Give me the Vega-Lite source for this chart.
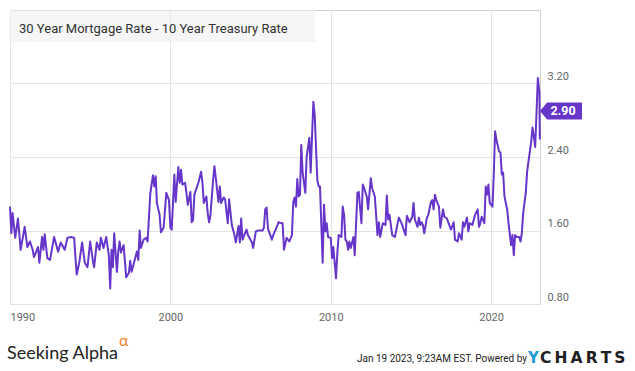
{
  "$schema": "https://vega.github.io/schema/vega-lite/v6.json",
  "width": 530,
  "height": 294,
  "autosize": {"type": "none"},
  "padding": {"left": 10, "top": 10, "right": 95, "bottom": 67},
  "background": "white",
  "title": {
    "text": "30 Year Mortgage Rate - 10 Year Treasury Rate",
    "anchor": "start",
    "frame": "group",
    "orient": "top",
    "offset": -32,
    "dx": 9,
    "baseline": "middle",
    "font": "Roboto",
    "fontSize": 13,
    "fontWeight": "normal",
    "color": "#333333"
  },
  "datasets": {
    "spread": [
      {"date": "1990-01-01", "value": 1.86},
      {"date": "1990-02-01", "value": 1.57},
      {"date": "1990-03-01", "value": 1.79},
      {"date": "1990-05-01", "value": 1.52},
      {"date": "1990-07-01", "value": 1.73},
      {"date": "1990-09-01", "value": 1.39},
      {"date": "1990-12-01", "value": 1.64},
      {"date": "1991-02-01", "value": 1.42},
      {"date": "1991-04-01", "value": 1.48},
      {"date": "1991-06-01", "value": 1.39},
      {"date": "1991-07-01", "value": 1.31},
      {"date": "1991-10-01", "value": 1.42},
      {"date": "1991-11-01", "value": 1.25},
      {"date": "1992-01-01", "value": 1.53},
      {"date": "1992-02-01", "value": 1.39},
      {"date": "1992-03-01", "value": 1.56},
      {"date": "1992-05-01", "value": 1.30},
      {"date": "1992-07-01", "value": 1.28},
      {"date": "1992-10-01", "value": 1.53},
      {"date": "1993-01-01", "value": 1.37},
      {"date": "1993-03-01", "value": 1.47},
      {"date": "1993-06-01", "value": 1.39},
      {"date": "1993-08-01", "value": 1.52},
      {"date": "1993-11-01", "value": 1.53},
      {"date": "1994-01-01", "value": 1.52},
      {"date": "1994-02-01", "value": 1.30},
      {"date": "1994-03-01", "value": 1.12},
      {"date": "1994-05-01", "value": 1.26},
      {"date": "1994-07-01", "value": 1.47},
      {"date": "1994-09-01", "value": 1.25},
      {"date": "1994-11-01", "value": 1.20},
      {"date": "1995-01-01", "value": 1.48},
      {"date": "1995-03-01", "value": 1.28},
      {"date": "1995-04-01", "value": 1.20},
      {"date": "1995-06-01", "value": 1.47},
      {"date": "1995-08-01", "value": 1.39},
      {"date": "1995-09-01", "value": 1.52},
      {"date": "1995-11-01", "value": 1.41},
      {"date": "1996-01-01", "value": 1.53},
      {"date": "1996-03-01", "value": 1.33},
      {"date": "1996-04-01", "value": 0.97},
      {"date": "1996-05-01", "value": 1.39},
      {"date": "1996-06-01", "value": 1.20},
      {"date": "1996-07-01", "value": 1.57},
      {"date": "1996-09-01", "value": 1.15},
      {"date": "1996-10-01", "value": 1.37},
      {"date": "1996-11-01", "value": 1.48},
      {"date": "1996-12-01", "value": 1.36},
      {"date": "1997-02-01", "value": 1.44},
      {"date": "1997-04-01", "value": 1.09},
      {"date": "1997-06-01", "value": 1.14},
      {"date": "1997-07-01", "value": 1.27},
      {"date": "1997-08-01", "value": 1.15},
      {"date": "1997-10-01", "value": 1.26},
      {"date": "1997-12-01", "value": 1.37},
      {"date": "1998-01-01", "value": 1.28},
      {"date": "1998-02-01", "value": 1.60},
      {"date": "1998-03-01", "value": 1.41},
      {"date": "1998-05-01", "value": 1.50},
      {"date": "1998-07-01", "value": 1.52},
      {"date": "1998-08-01", "value": 1.48},
      {"date": "1998-10-01", "value": 2.00},
      {"date": "1998-12-01", "value": 2.20},
      {"date": "1999-01-01", "value": 2.08},
      {"date": "1999-02-01", "value": 2.19},
      {"date": "1999-03-01", "value": 1.90},
      {"date": "1999-05-01", "value": 1.77},
      {"date": "1999-06-01", "value": 1.58},
      {"date": "1999-08-01", "value": 1.63},
      {"date": "1999-10-01", "value": 2.01},
      {"date": "1999-12-01", "value": 1.93},
      {"date": "2000-01-01", "value": 1.63},
      {"date": "2000-02-01", "value": 1.61},
      {"date": "2000-04-01", "value": 2.21},
      {"date": "2000-05-01", "value": 1.91},
      {"date": "2000-07-01", "value": 2.29},
      {"date": "2000-08-01", "value": 2.12},
      {"date": "2000-09-01", "value": 2.26},
      {"date": "2000-10-01", "value": 2.10},
      {"date": "2000-12-01", "value": 2.12},
      {"date": "2001-01-01", "value": 2.01},
      {"date": "2001-02-01", "value": 1.88},
      {"date": "2001-04-01", "value": 2.02},
      {"date": "2001-05-01", "value": 1.69},
      {"date": "2001-06-01", "value": 1.71},
      {"date": "2001-07-01", "value": 1.99},
      {"date": "2001-10-01", "value": 2.12},
      {"date": "2001-12-01", "value": 2.24},
      {"date": "2002-01-01", "value": 2.12},
      {"date": "2002-02-01", "value": 1.90},
      {"date": "2002-04-01", "value": 1.97},
      {"date": "2002-05-01", "value": 1.79},
      {"date": "2002-06-01", "value": 1.69},
      {"date": "2002-07-01", "value": 1.76},
      {"date": "2002-09-01", "value": 2.15},
      {"date": "2002-10-01", "value": 2.30},
      {"date": "2002-11-01", "value": 2.17},
      {"date": "2003-01-01", "value": 1.91},
      {"date": "2003-02-01", "value": 2.08},
      {"date": "2003-03-01", "value": 1.90},
      {"date": "2003-05-01", "value": 1.96},
      {"date": "2003-06-01", "value": 1.94},
      {"date": "2003-08-01", "value": 1.68},
      {"date": "2003-09-01", "value": 1.94},
      {"date": "2003-11-01", "value": 1.66},
      {"date": "2004-01-01", "value": 1.55},
      {"date": "2004-02-01", "value": 1.47},
      {"date": "2004-04-01", "value": 1.65},
      {"date": "2004-05-01", "value": 1.47},
      {"date": "2004-06-01", "value": 1.73},
      {"date": "2004-07-01", "value": 1.50},
      {"date": "2004-10-01", "value": 1.61},
      {"date": "2004-11-01", "value": 1.55},
      {"date": "2005-02-01", "value": 1.47},
      {"date": "2005-03-01", "value": 1.41},
      {"date": "2005-05-01", "value": 1.59},
      {"date": "2005-07-01", "value": 1.60},
      {"date": "2005-10-01", "value": 1.60},
      {"date": "2005-11-01", "value": 1.63},
      {"date": "2005-12-01", "value": 1.83},
      {"date": "2006-01-01", "value": 1.85},
      {"date": "2006-02-01", "value": 1.62},
      {"date": "2006-05-01", "value": 1.50},
      {"date": "2006-06-01", "value": 1.55},
      {"date": "2006-09-01", "value": 1.65},
      {"date": "2006-10-01", "value": 1.69},
      {"date": "2006-12-01", "value": 1.68},
      {"date": "2007-01-01", "value": 1.68},
      {"date": "2007-02-01", "value": 1.39},
      {"date": "2007-04-01", "value": 1.52},
      {"date": "2007-06-01", "value": 1.48},
      {"date": "2007-08-01", "value": 1.55},
      {"date": "2007-09-01", "value": 1.91},
      {"date": "2007-10-01", "value": 1.96},
      {"date": "2007-11-01", "value": 1.86},
      {"date": "2007-12-01", "value": 2.16},
      {"date": "2008-01-01", "value": 1.97},
      {"date": "2008-02-01", "value": 1.99},
      {"date": "2008-03-01", "value": 2.53},
      {"date": "2008-04-01", "value": 2.23},
      {"date": "2008-06-01", "value": 2.01},
      {"date": "2008-07-01", "value": 2.40},
      {"date": "2008-09-01", "value": 2.61},
      {"date": "2008-10-01", "value": 2.23},
      {"date": "2008-12-01", "value": 3.00},
      {"date": "2009-01-01", "value": 2.86},
      {"date": "2009-03-01", "value": 2.15},
      {"date": "2009-04-01", "value": 2.08},
      {"date": "2009-05-01", "value": 2.08},
      {"date": "2009-07-01", "value": 1.25},
      {"date": "2009-08-01", "value": 1.88},
      {"date": "2009-09-01", "value": 1.59},
      {"date": "2009-10-01", "value": 1.68},
      {"date": "2009-11-01", "value": 1.53},
      {"date": "2010-01-01", "value": 1.52},
      {"date": "2010-02-01", "value": 1.30},
      {"date": "2010-03-01", "value": 1.42},
      {"date": "2010-05-01", "value": 1.08},
      {"date": "2010-06-01", "value": 1.36},
      {"date": "2010-07-01", "value": 1.55},
      {"date": "2010-09-01", "value": 1.53},
      {"date": "2010-10-01", "value": 1.86},
      {"date": "2010-11-01", "value": 1.77},
      {"date": "2010-12-01", "value": 1.50},
      {"date": "2011-01-01", "value": 1.48},
      {"date": "2011-02-01", "value": 1.39},
      {"date": "2011-03-01", "value": 1.48},
      {"date": "2011-04-01", "value": 1.41},
      {"date": "2011-06-01", "value": 1.53},
      {"date": "2011-07-01", "value": 1.33},
      {"date": "2011-09-01", "value": 2.01},
      {"date": "2011-10-01", "value": 2.02},
      {"date": "2011-12-01", "value": 1.68},
      {"date": "2012-01-01", "value": 2.10},
      {"date": "2012-02-01", "value": 2.06},
      {"date": "2012-04-01", "value": 1.97},
      {"date": "2012-05-01", "value": 1.83},
      {"date": "2012-07-01", "value": 2.17},
      {"date": "2012-08-01", "value": 2.06},
      {"date": "2012-10-01", "value": 1.97},
      {"date": "2012-12-01", "value": 1.55},
      {"date": "2013-01-01", "value": 1.69},
      {"date": "2013-02-01", "value": 1.53},
      {"date": "2013-04-01", "value": 1.68},
      {"date": "2013-06-01", "value": 1.66},
      {"date": "2013-07-01", "value": 1.98},
      {"date": "2013-08-01", "value": 1.72},
      {"date": "2013-09-01", "value": 1.77},
      {"date": "2013-11-01", "value": 1.55},
      {"date": "2014-01-01", "value": 1.53},
      {"date": "2014-04-01", "value": 1.74},
      {"date": "2014-06-01", "value": 1.68},
      {"date": "2014-07-01", "value": 1.64},
      {"date": "2014-09-01", "value": 1.55},
      {"date": "2014-10-01", "value": 1.76},
      {"date": "2014-12-01", "value": 1.69},
      {"date": "2015-02-01", "value": 1.75},
      {"date": "2015-03-01", "value": 1.90},
      {"date": "2015-04-01", "value": 1.72},
      {"date": "2015-06-01", "value": 1.64},
      {"date": "2015-07-01", "value": 1.74},
      {"date": "2015-08-01", "value": 1.66},
      {"date": "2015-09-01", "value": 1.69},
      {"date": "2015-10-01", "value": 1.66},
      {"date": "2015-11-01", "value": 1.57},
      {"date": "2016-01-01", "value": 1.74},
      {"date": "2016-02-01", "value": 1.77},
      {"date": "2016-04-01", "value": 1.91},
      {"date": "2016-05-01", "value": 1.93},
      {"date": "2016-06-01", "value": 1.83},
      {"date": "2016-07-01", "value": 1.99},
      {"date": "2016-08-01", "value": 1.93},
      {"date": "2016-10-01", "value": 1.86},
      {"date": "2016-11-01", "value": 1.63},
      {"date": "2017-01-01", "value": 1.83},
      {"date": "2017-02-01", "value": 1.75},
      {"date": "2017-04-01", "value": 1.73},
      {"date": "2017-07-01", "value": 1.61},
      {"date": "2017-09-01", "value": 1.69},
      {"date": "2017-10-01", "value": 1.50},
      {"date": "2017-12-01", "value": 1.48},
      {"date": "2018-01-01", "value": 1.57},
      {"date": "2018-03-01", "value": 1.50},
      {"date": "2018-04-01", "value": 1.69},
      {"date": "2018-05-01", "value": 1.64},
      {"date": "2018-07-01", "value": 1.74},
      {"date": "2018-08-01", "value": 1.59},
      {"date": "2018-09-01", "value": 1.68},
      {"date": "2018-11-01", "value": 1.66},
      {"date": "2019-01-01", "value": 1.77},
      {"date": "2019-03-01", "value": 1.83},
      {"date": "2019-04-01", "value": 1.64},
      {"date": "2019-05-01", "value": 1.68},
      {"date": "2019-06-01", "value": 1.75},
      {"date": "2019-08-01", "value": 1.68},
      {"date": "2019-09-01", "value": 2.08},
      {"date": "2019-10-01", "value": 1.99},
      {"date": "2019-11-01", "value": 2.10},
      {"date": "2019-12-01", "value": 1.90},
      {"date": "2020-02-01", "value": 1.86},
      {"date": "2020-03-01", "value": 2.19},
      {"date": "2020-04-01", "value": 2.68},
      {"date": "2020-05-01", "value": 2.59},
      {"date": "2020-07-01", "value": 2.46},
      {"date": "2020-08-01", "value": 2.45},
      {"date": "2020-09-01", "value": 2.21},
      {"date": "2020-10-01", "value": 2.23},
      {"date": "2020-11-01", "value": 1.97},
      {"date": "2021-01-01", "value": 1.83},
      {"date": "2021-02-01", "value": 1.68},
      {"date": "2021-04-01", "value": 1.44},
      {"date": "2021-05-01", "value": 1.55},
      {"date": "2021-06-01", "value": 1.33},
      {"date": "2021-07-01", "value": 1.55},
      {"date": "2021-08-01", "value": 1.53},
      {"date": "2021-10-01", "value": 1.53},
      {"date": "2021-11-01", "value": 1.48},
      {"date": "2021-12-01", "value": 1.57},
      {"date": "2022-01-01", "value": 1.79},
      {"date": "2022-03-01", "value": 2.01},
      {"date": "2022-04-01", "value": 2.24},
      {"date": "2022-05-01", "value": 2.35},
      {"date": "2022-07-01", "value": 2.56},
      {"date": "2022-08-01", "value": 2.72},
      {"date": "2022-09-01", "value": 2.62},
      {"date": "2022-10-01", "value": 2.51},
      {"date": "2022-11-01", "value": 2.88},
      {"date": "2022-12-01", "value": 3.26},
      {"date": "2023-01-05", "value": 3.10},
      {"date": "2023-01-15", "value": 2.59}
    ],
    "latest": [{"date": "2023-01-19", "value": 2.90}],
    "footer": [{"start": "1990-01-01", "date": "2023-01-19", "stamp": "Jan 19 2023, 9:23AM EST.  Powered by"}]
  },
  "layer": [
    {
      "data": {"name": "footer"},
      "mark": {"type": "rect", "fill": "#eeeeee", "opacity": 0.55},
      "encoding": {
        "x": {"datum": {"year": 1990, "month": 1, "date": 1}, "type": "temporal"},
        "x2": {"datum": {"year": 2009, "month": 1, "date": 19}},
        "y": {"datum": 4.0, "type": "quantitative"},
        "y2": {"datum": 3.652}
      }
    },
    {
      "data": {"name": "spread"},
      "mark": {"type": "line", "color": "#6536c9", "strokeWidth": 2, "strokeJoin": "round"},
      "encoding": {
        "x": {
          "field": "date",
          "type": "temporal",
          "scale": {"domain": [{"year": 1990, "month": 1, "date": 1}, {"year": 2023, "month": 1, "date": 19}]},
          "axis": {
            "orient": "bottom",
            "values": [{"year": 1990, "month": 1, "date": 1}, {"year": 2000, "month": 1, "date": 1}, {"year": 2010, "month": 1, "date": 1}, {"year": 2020, "month": 1, "date": 1}],
            "format": "%Y",
            "title": null,
            "grid": true,
            "domain": false,
            "ticks": false,
            "labelPadding": 7,
            "labelFlush": true
          }
        },
        "y": {
          "field": "value",
          "type": "quantitative",
          "scale": {"domain": [0.8, 4.0], "nice": false, "zero": false},
          "axis": {
            "orient": "right",
            "values": [0.8, 1.6, 2.4, 3.2],
            "format": ".2f",
            "title": null,
            "grid": true,
            "domain": false,
            "ticks": false,
            "labelPadding": 7,
            "labelOffset": -7
          }
        }
      }
    },
    {
      "data": {"name": "latest"},
      "mark": {"type": "point", "shape": "M-1,0L-0.66,-0.405L1,-0.405L1,0.405L-0.66,0.405Z", "size": 1764, "filled": true, "fill": "#6536c9", "opacity": 1, "strokeWidth": 0, "xOffset": 21},
      "encoding": {
        "x": {"field": "date", "type": "temporal"},
        "y": {"field": "value", "type": "quantitative"}
      }
    },
    {
      "data": {"name": "latest"},
      "mark": {"type": "text", "color": "white", "font": "Roboto", "fontWeight": "bold", "fontSize": 12.5, "align": "center", "baseline": "middle", "xOffset": 23},
      "encoding": {
        "x": {"field": "date", "type": "temporal"},
        "y": {"field": "value", "type": "quantitative"},
        "text": {"field": "value", "type": "quantitative", "format": ".2f"}
      }
    },
    {
      "data": {"name": "footer"},
      "mark": {"type": "text", "text": "Seeking Alpha", "font": "Lato", "fontSize": 18, "color": "#222222", "align": "left", "baseline": "alphabetic", "dx": -3, "dy": 55},
      "encoding": {
        "x": {"field": "start", "type": "temporal"},
        "y": {"datum": 0.8, "type": "quantitative"}
      }
    },
    {
      "data": {"name": "footer"},
      "mark": {"type": "text", "text": "α", "font": "Lato", "fontSize": 16, "color": "#f5821f", "align": "left", "baseline": "alphabetic", "dx": 109, "dy": 42},
      "encoding": {
        "x": {"field": "start", "type": "temporal"},
        "y": {"datum": 0.8, "type": "quantitative"}
      }
    },
    {
      "data": {"name": "footer"},
      "mark": {"type": "text", "font": "Roboto", "fontSize": 10, "color": "#222222", "align": "right", "baseline": "alphabetic", "dx": -13, "dy": 58},
      "encoding": {
        "x": {"field": "date", "type": "temporal"},
        "y": {"datum": 0.8, "type": "quantitative"},
        "text": {"field": "stamp"}
      }
    },
    {
      "data": {"name": "footer"},
      "mark": {"type": "text", "text": "Y", "font": "DejaVu Sans", "fontWeight": "bold", "fontSize": 15, "color": "#1c9ad6", "align": "left", "baseline": "alphabetic", "dx": -12, "dy": 59},
      "encoding": {
        "x": {"field": "date", "type": "temporal"},
        "y": {"datum": 0.8, "type": "quantitative"}
      }
    },
    {
      "data": {"name": "footer"},
      "mark": {"type": "text", "text": "C\u2009H\u2009A\u2009R\u2009T\u2009S", "font": "DejaVu Sans", "fontWeight": "bold", "fontSize": 15.5, "color": "#1e1e1e", "align": "left", "baseline": "alphabetic", "dx": 0, "dy": 59},
      "encoding": {
        "x": {"field": "date", "type": "temporal"},
        "y": {"datum": 0.8, "type": "quantitative"}
      }
    }
  ],
  "config": {
    "view": {"stroke": "#d0d0d0", "strokeWidth": 1},
    "axis": {
      "gridColor": "#e3e3e3",
      "gridWidth": 1,
      "labelColor": "#666666",
      "labelFont": "Roboto",
      "labelFontSize": 11
    }
  }
}
